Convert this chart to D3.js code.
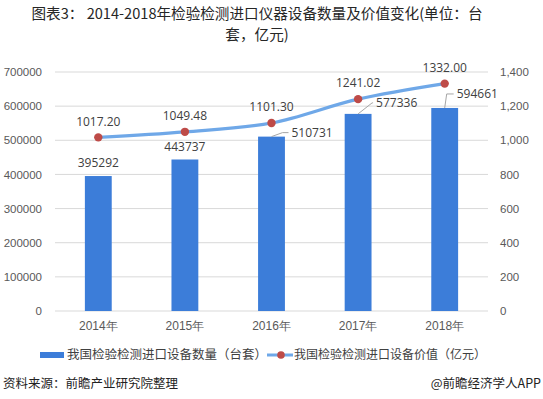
<!DOCTYPE html>
<html>
<head>
<meta charset="utf-8">
<script src="https://cdn.jsdelivr.net/npm/d3@7"></script>
<style>
  body { margin: 0; background: #fff; }
  #graf { position: relative; width: 543px; height: 399px; }
  #titulo { position: absolute; left: 0; top: 2px; width: 514px; text-align: center;
    font-family: "Noto Sans CJK SC", sans-serif; font-size: 14.6px; line-height: 21px; color: #262626; }
  svg { display: block; font-family: "Open Sans", "Noto Sans CJK SC", sans-serif; }
  .ejes text { fill: #595959; font-size: 11.5px; }
  .etiqueta { fill: #404040; font-size: 12px; }
</style>
</head>
<body>
<div id="graf"><div id="titulo"></div></div>
<script>
// datos principales
const anios = ["2014年", "2015年", "2016年", "2017年", "2018年"];
const cantidad = [395292, 443737, 510731, 577336, 594661];      //台套
const valor = [1017.20, 1049.48, 1101.30, 1241.02, 1332.00];     // 亿元
const ticksIzq = [0, 100000, 200000, 300000, 400000, 500000, 600000, 700000];
const ticksDer = [0, 200, 400, 600, 800, 1000, 1200, 1400];

const anchototal = 543, altototal = 399;
const margins = { left: 55, top: 72, right: 55, bottom: 88 };
const anchografica = anchototal - margins.left - margins.right;
const altografica = altototal - margins.top - margins.bottom;

// título (dos renglones en un solo bloque)
d3.select("#titulo").html("图表3： 2014-2018年检验检测进口仪器设备数量及价值变化(单位：台<br>套，亿元)");

const svg = d3.select("#graf").append("svg")
  .attr("width", anchototal).attr("height", altototal);

// escalas
const x = d3.scaleBand().domain(anios).range([0, anchografica]).paddingInner(0.69).paddingOuter(0.345);
const y = d3.scaleLinear().domain([0, 700000]).range([altografica, 0]);
const y2 = d3.scaleLinear().domain([0, 1400]).range([altografica, 0]);

const g = svg.append("g").attr("transform", `translate(${margins.left}, ${margins.top})`);

// rejilla
g.selectAll(".rejilla").data(ticksIzq).enter().append("line")
  .attr("x1", 0).attr("x2", anchografica)
  .attr("y1", d => y(d)).attr("y2", d => y(d))
  .attr("stroke", "#d9d9d9").attr("stroke-width", 1);

// ejes
const ejeIzq = g.append("g").attr("class", "ejes")
  .call(d3.axisLeft(y).tickValues(ticksIzq).tickSize(0).tickPadding(13).tickFormat(d3.format("d")));
const ejeDer = g.append("g").attr("class", "ejes").attr("transform", `translate(${anchografica},0)`)
  .call(d3.axisRight(y2).tickValues(ticksDer).tickSize(0).tickPadding(12).tickFormat(d3.format(",")));
const ejeX = g.append("g").attr("class", "ejes").attr("transform", `translate(0,${altografica})`)
  .call(d3.axisBottom(x).tickSize(0).tickPadding(10));
[ejeIzq, ejeDer, ejeX].forEach(e => e.select(".domain").remove());
ejeX.selectAll("text").style("font-size", "12px");

// barras
g.selectAll(".barra").data(cantidad).enter().append("rect")
  .attr("x", (d, i) => x(anios[i]))
  .attr("y", d => y(d))
  .attr("width", x.bandwidth())
  .attr("height", d => altografica - y(d))
  .attr("fill", "#3c7dd9");

// etiquetas de barras (desplazamiento de la etiqueta respecto a la cima)
const desplaz = [[0, -13], [0, -13], [20, -4], [18, -8], [12, -14]];
const cx = i => x(anios[i]) + x.bandwidth() / 2;
cantidad.forEach((d, i) => {
  const [dx, dy] = desplaz[i];
  const x0 = cx(i), y0 = y(d);
  if (dx !== 0) {
    // línea guía
    const codo = i === 2 ? [x0 + 11, y0 + dy] : i === 3 ? [x0 + 14, y0 + dy - 3] : [x0 + 2, y0 + dy];
    g.append("polyline")
      .attr("points", `${x0},${y0} ${codo[0]},${codo[1]} ${x0 + dx - 3},${codo[1]}`)
      .attr("fill", "none").attr("stroke", "#a6a6a6").attr("stroke-width", 1);
    g.append("text").attr("class", "etiqueta")
      .attr("x", x0 + dx).attr("y", codo[1]).attr("dy", "0.35em")
      .text(d);
  } else {
    g.append("text").attr("class", "etiqueta").attr("text-anchor", "middle")
      .attr("x", x0).attr("y", y0 + dy).attr("dy", "0.35em")
      .text(d);
  }
});

// línea de valor
const linea = d3.line().x((d, i) => cx(i)).y(d => y2(d)).curve(d3.curveCatmullRom.alpha(0.5));
g.append("path").datum(valor)
  .attr("d", linea).attr("fill", "none")
  .attr("stroke", "#6fa8e8").attr("stroke-width", 3.2).attr("stroke-linecap", "round");
g.selectAll(".punto").data(valor).enter().append("circle")
  .attr("cx", (d, i) => cx(i)).attr("cy", d => y2(d)).attr("r", 4.2)
  .attr("fill", "#be4b48");
g.selectAll(".etvalor").data(valor).enter().append("text").attr("class", "etiqueta")
  .attr("text-anchor", "middle")
  .attr("x", (d, i) => cx(i)).attr("y", d => y2(d) - 16).attr("dy", "0.35em")
  .text(d => d.toFixed(2));

// leyenda
const ley = svg.append("g").style("font-family", "'Noto Sans CJK SC', sans-serif").style("font-size", "12.5px");
ley.append("rect").attr("x", 40).attr("y", 352).attr("width", 24).attr("height", 6).attr("fill", "#3c7dd9");
ley.append("text").attr("x", 67).attr("y", 355).attr("dy", "0.35em").attr("fill", "#404040").text("我国检验检测进口设备数量（台套）");
ley.append("line").attr("x1", 267).attr("x2", 293).attr("y1", 355).attr("y2", 355)
  .attr("stroke", "#6fa8e8").attr("stroke-width", 3);
ley.append("circle").attr("cx", 281).attr("cy", 355).attr("r", 3.8).attr("fill", "#be4b48");
ley.append("text").attr("x", 294).attr("y", 355).attr("dy", "0.35em").attr("fill", "#404040")
  .style("font-size", "12px").text("我国检验检测进口设备价值（亿元）");

// fuente
const pie = svg.append("g").style("font-family", "'Noto Sans CJK SC', sans-serif").style("font-size", "12.5px").attr("fill", "#222");
pie.append("text").attr("x", 3).attr("y", 384).attr("dy", "0.35em").text("资料来源：前瞻产业研究院整理");
pie.append("text").attr("x", 541).attr("y", 384).attr("dy", "0.35em").attr("text-anchor", "end").text("@前瞻经济学人APP");
</script>
</body>
</html>
